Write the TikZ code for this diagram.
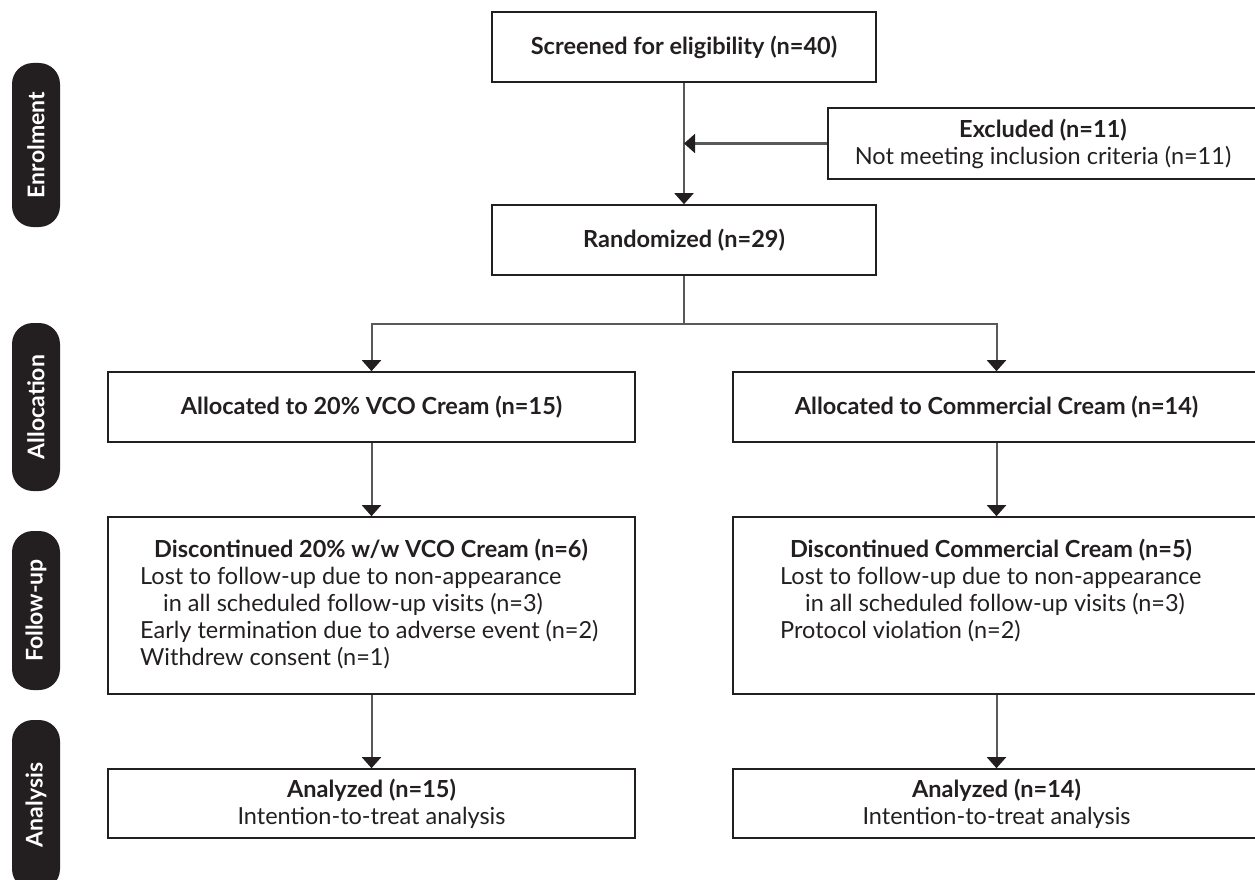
\documentclass[tikz,border=0pt]{standalone}
\usepackage{fontspec}
\setmainfont{Lato}
\usetikzlibrary{arrows.meta}
\definecolor{ink}{HTML}{231F20}
\definecolor{wire}{HTML}{58595B}
\begin{document}
\begin{tikzpicture}[x=1pt,y=-1pt,
  txt/.style={font=\fontsize{23.5}{27}\selectfont, text=ink, inner sep=0pt, align=center},
  box/.style={txt, draw=ink, line width=1.6pt},
  side/.style={fill=ink, rounded corners=21pt, text=white, font=\fontsize{23}{27}\selectfont\bfseries, rotate=90, minimum height=48pt, inner sep=0pt},
  conn/.style={draw=wire, line width=2pt},
  arr/.style={conn, -{Triangle[width=19pt,length=11pt,color=ink]}}]
\useasboundingbox (0,0) rectangle (1255,880);
\clip (0,0) rectangle (1255,880);
% side labels
\node[side, minimum width=164pt] (s1) at (36,145) {Enrolment};
\node[side, minimum width=168pt] (s2) at (36,407) {Allocation};
\node[side, minimum width=159pt] (s3) at (36,610.5) {Follow-up};
\node[side, minimum width=170pt] (s4) at (36,805) {Analysis};
% boxes
\node[box, minimum width=384pt, minimum height=70pt] (screen) at (684,47) {\bfseries Screened for eligibility (n=40)};
\node[box, minimum width=430pt, minimum height=71pt] (excl) at (1043,143.5) {\textbf{Excluded (n=11)}\\Not meeting inclusion criteria (n=11)};
\node[box, minimum width=384pt, minimum height=70pt] (rand) at (684,240) {\bfseries Randomized (n=29)};
\node[box, minimum width=527pt, minimum height=70pt] (allocL) at (371.5,407) {\bfseries Allocated to 20\% VCO Cream (n=15)};
\node[box, minimum width=527pt, minimum height=70pt] (allocR) at (996.5,407) {\bfseries Allocated to Commercial Cream (n=14)};
\node[box, minimum width=527pt, minimum height=177pt] (fuL) at (371.5,605.5) {};
\node[box, minimum width=527pt, minimum height=177pt] (fuR) at (996.5,605.5) {};
\node[box, minimum width=527pt, minimum height=69pt] (anL) at (371.5,803.5) {\textbf{Analyzed (n=15)}\\Intention-to-treat analysis};
\node[box, minimum width=527pt, minimum height=69pt] (anR) at (996.5,803.5) {\textbf{Analyzed (n=14)}\\Intention-to-treat analysis};
% follow-up texts
\node[txt, anchor=base, font=\fontsize{23.5}{27}\selectfont\bfseries] (fuLh) at (371,557) {Discontinued 20\% w/w VCO Cream (n=6)};
\node[txt, anchor=base west] (fuL1) at (140,584) {Lost to follow-up due to non-appearance};
\node[txt, anchor=base west] (fuL2) at (163,611) {in all scheduled follow-up visits (n=3)};
\node[txt, anchor=base west] (fuL3) at (140,638) {Early termination due to adverse event (n=2)};
\node[txt, anchor=base west] (fuL4) at (140,665) {Withdrew consent (n=1)};
\node[txt, anchor=base, font=\fontsize{23.5}{27}\selectfont\bfseries] (fuRh) at (991,557) {Discontinued Commercial Cream (n=5)};
\node[txt, anchor=base west] (fuR1) at (780,584) {Lost to follow-up due to non-appearance};
\node[txt, anchor=base west] (fuR2) at (805,611) {in all scheduled follow-up visits (n=3)};
\node[txt, anchor=base west] (fuR3) at (780,638) {Protocol violation (n=2)};
% connectors
\draw[arr] (screen.south) -- (rand.north);
\coordinate (join) at (screen.south |- excl.west);
\draw[arr] (excl.west) -- (join);
\coordinate (split) at (684,324);
\draw[conn] (rand.south) -- (split);
\draw[arr] (split) -| (allocL.north);
\draw[arr] (split) -| (allocR.north);
\draw[arr] (allocL.south) -- (fuL.north);
\draw[arr] (allocR.south) -- (fuR.north);
\draw[arr] (fuL.south) -- (anL.north);
\draw[arr] (fuR.south) -- (anR.north);
\end{tikzpicture}
\end{document}
